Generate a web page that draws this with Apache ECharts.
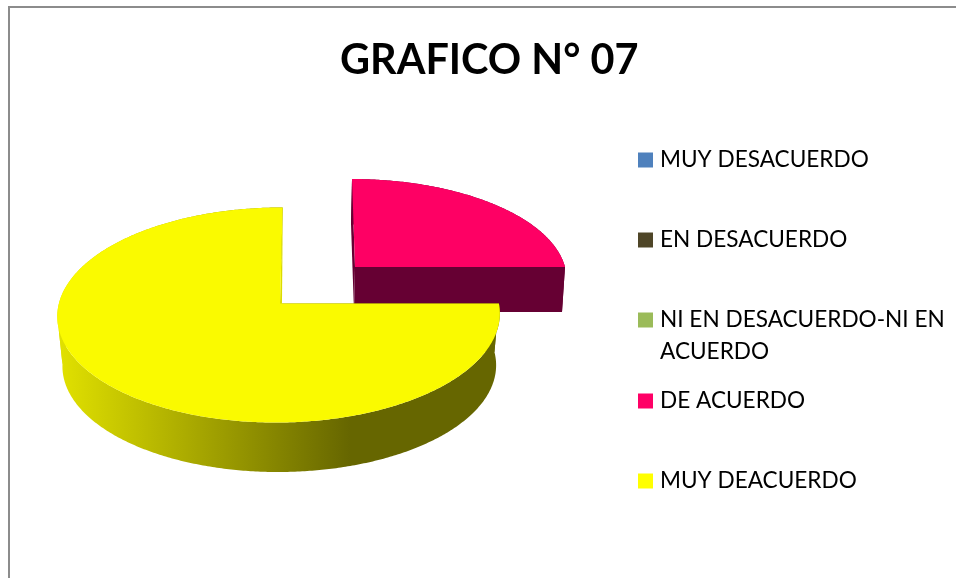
<!DOCTYPE html>
<html>
<head>
<meta charset="utf-8">
<title>GRAFICO N° 07</title>
<style>
  html, body { margin: 0; padding: 0; background: #fff; }
  #chart { width: 956px; height: 578px; }
</style>
<script src="https://cdn.jsdelivr.net/npm/echarts@6/dist/echarts.min.js"></script>
</head>
<body>
<div id="chart"></div>
<script>
const chartTitle = "GRAFICO N° 07";
const categories = ["MUY DESACUERDO", "EN DESACUERDO", "NI EN DESACUERDO-NI EN ACUERDO", "DE ACUERDO", "MUY DEACUERDO"];
const values = [0, 0, 0, 25, 75];
const legendColors = ["#4f81bd", "#4f4628", "#9bbb59", "#ff0066", "#ffff00"];

// perspective frames for the exploded slices: top face and lower rim
const pinkTop = { cx: 355, cy: 267, rx: 210, ry: 97.4, s: 3.3, k: 0.107, j: 0 };
const pinkLow = { cx: 354, cy: 312, rx: 208, ry: 97, s: 3.3, k: 0.107, j: 0 };
const yellowTop = { cx: 280, cy: 303.5, rx: 220, ry: 106.3, s: -3, k: 0.107, j: -0.005 };
const yellowLow = { cx: 280.5, cy: 352, rx: 215, ry: 104.4, s: -1, k: 0.13, j: -0.005 };

const yellowWall = new echarts.graphic.LinearGradient(57, 0, 350, 0, [
  { offset: 0, color: "#e2e200" },
  { offset: 1, color: "#666600" },
], true);

const sliceLooks = {
  3: { top: pinkTop, low: pinkLow, face: "#fe0064", wall: "#660033", edge: "#660033", edgeShift: 0 },
  4: { top: yellowTop, low: yellowLow, face: "#fafa00", wall: yellowWall, edge: "#dcdc00", edgeShift: 1 },
};

const total = values.reduce((a, b) => a + b, 0);

// angle is clockwise from 12 o'clock
function project(f, angle) {
  const u = Math.sin(angle);
  const v = -Math.cos(angle);
  const w = 1 - f.k * v - f.j * u;
  return [f.cx + (f.rx * u + f.s * v) / w, f.cy + (f.ry * v) / w];
}

function rim(f, a0, a1) {
  const pts = [];
  const n = Math.max(8, Math.ceil((a1 - a0) / 0.01));
  for (let i = 0; i <= n; i++) pts.push(project(f, a0 + ((a1 - a0) * i) / n));
  return pts;
}

function renderSlice(params, api) {
  const idx = params.seriesIndex;
  const val = api.value(0);
  if (!val) return null;
  const look = sliceLooks[idx];
  const before = values.slice(0, idx).reduce((a, b) => a + b, 0);
  const a0 = (before / total) * Math.PI * 2;
  const a1 = ((before + val) / total) * Math.PI * 2;
  const topRim = rim(look.top, a0, a1);
  const lowRim = rim(look.low, a0, a1);
  const topApex = [look.top.cx, look.top.cy];
  const lowApex = [look.low.cx, look.low.cy];
  const topEnd = topRim[topRim.length - 1];
  const lowEnd = lowRim[lowRim.length - 1];
  const poly = (points, fill) => ({ type: "polygon", shape: { points: points }, style: { fill: fill } });

  // split the outer wall at the leftmost rim point so the silhouette stays closed
  let split = 0;
  topRim.forEach((p, i) => {
    if (p[0] < topRim[split][0]) split = i;
  });
  const wallPart = (from, to) =>
    topRim.slice(from, to + 1).concat(lowRim.slice(from, to + 1).reverse());

  return {
    type: "group",
    children: [
      poly(wallPart(0, split), look.wall),
      poly(wallPart(split, topRim.length - 1), look.wall),
      poly([topApex, topRim[0], lowRim[0], lowApex], look.wall),
      poly([topApex, topEnd, [lowEnd[0] + look.edgeShift, lowEnd[1]], [lowApex[0] + look.edgeShift, lowApex[1]]], look.edge),
      poly([topApex].concat(topRim), look.face),
    ],
  };
}

const legendTops = [144, 224, 272, 385, 465];

const myChart = echarts.init(document.getElementById("chart"), null, { renderer: "canvas" });
myChart.setOption({
  animation: false,
  backgroundColor: "#ffffff",
  title: {
    text: chartTitle,
    left: 335,
    top: 35,
    textStyle: { fontFamily: "Lato", fontWeight: "bold", fontSize: 41.4, color: "#000" },
  },
  graphic: [
    {
      type: "rect",
      silent: true,
      shape: { x: 9, y: 7, width: 1200, height: 900 },
      style: { fill: "transparent", stroke: "#8c8c8c", lineWidth: 2 },
    },
  ],
  legend: categories.map((name, i) => ({
    data: [name],
    left: 638,
    top: legendTops[i],
    padding: 0,
    icon: "rect",
    itemWidth: 15,
    itemHeight: 15,
    selectedMode: false,
    // the empty first line keeps the swatch level with the first written line
    formatter: (n) => n.replace("NI EN DESACUERDO-NI EN ACUERDO", "\nNI EN DESACUERDO-NI EN\nACUERDO"),
    textStyle: {
      fontFamily: "Lato",
      fontSize: 22.6,
      lineHeight: 32,
      color: "#000",
      padding: [0, 0, 0, 2],
    },
  })),
  series: categories.map((name, i) => ({
    type: "custom",
    name: name,
    coordinateSystem: "none",
    itemStyle: { color: legendColors[i] },
    renderItem: renderSlice,
    data: [[values[i]]],
  })),
});
</script>
</body>
</html>
